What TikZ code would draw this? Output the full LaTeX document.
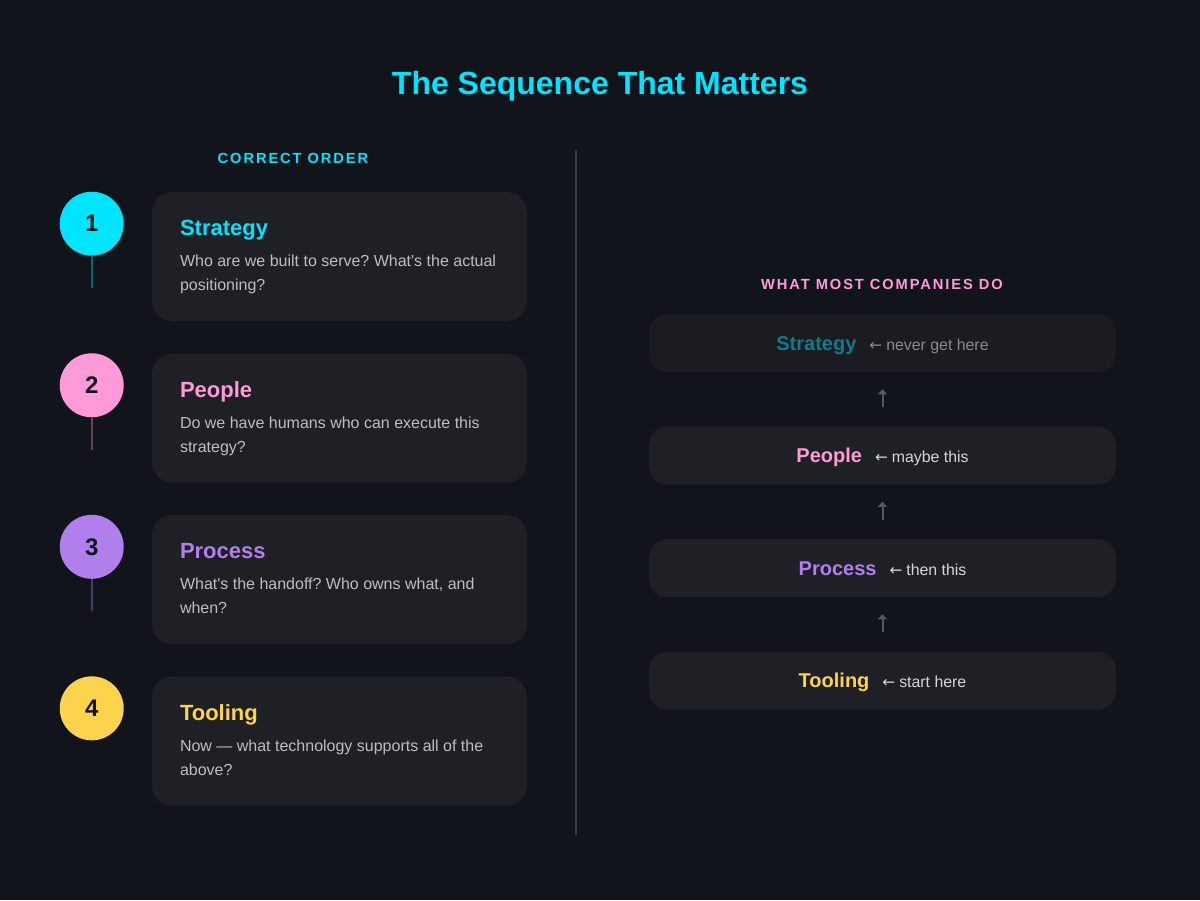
\documentclass[tikz,border=0pt]{standalone}
\usepackage{fontspec}
\setmainfont{Liberation Sans}[Ligatures=TeXOff]
\newfontfamily\capsfont[LetterSpace=13]{Liberation Sans}
\newfontfamily\arrowfont{DejaVu Sans}
\usetikzlibrary{positioning,arrows.meta,calc}
\definecolor{bgdark}{HTML}{11141B}
\definecolor{cardfill}{HTML}{1F2026}
\definecolor{dimfill}{HTML}{1B1C22}
\definecolor{accentcyan}{HTML}{00E5FF}
\definecolor{accentpink}{HTML}{FF9AD8}
\definecolor{accentpurple}{HTML}{B17FEC}
\definecolor{accentyellow}{HTML}{FCD34D}
\definecolor{desctext}{HTML}{BDBDC2}
\definecolor{sidetext}{HTML}{D6D6DA}
\definecolor{dimtext}{HTML}{8A8A90}
\definecolor{dimcyan}{HTML}{0E7C8C}
\definecolor{arrowgray}{HTML}{55585F}
\definecolor{rulegray}{HTML}{3A3D45}
\def\px{0.75pt}
\def\cardvgap{24pt}
\def\stepvgap{40.5pt}
\newcommand\steplabelfont{\fontsize{15pt}{18pt}\selectfont\bfseries}
\newcommand\stepnotefont{\fontsize{11.9pt}{14pt}\selectfont\mdseries}
\newcommand\leftarr{{\arrowfont\fontsize{11.5pt}{14pt}\selectfont ←}\hspace{3pt}}
\frenchspacing

\begin{document}
\begin{tikzpicture}[
            x=\px, y=-\px,
            card/.style={%
                rectangle, rounded corners=15pt, fill=cardfill,%
                minimum width=281.25pt, minimum height=96.75pt, inner sep=0%
            },
            numdot/.style={%
                circle, minimum size=48pt, inner sep=0, text=bgdark,%
                font=\fontsize{18pt}{20pt}\selectfont\bfseries%
            },
            cardtitle/.style={%
                anchor=base west, inner sep=0,%
                font=\fontsize{16.5pt}{18pt}\selectfont\bfseries%
            },
            carddesc/.style={%
                anchor=north west, inner sep=0, align=left, text=desctext,%
                font=\fontsize{12pt}{18pt}\selectfont%
            },
            stepbox/.style={%
                rectangle, rounded corners=13.5pt, fill=cardfill,%
                minimum width=350.25pt, minimum height=43.5pt, inner sep=0,%
                text height=12.5pt, text depth=2pt%
            },
            header/.style={%
                anchor=base, inner sep=0,%
                font=\fontsize{11pt}{12pt}\capsfont\bfseries%
            },
            stem/.style={line width=1.5pt},
            uparrow/.style={%
                arrowgray, line width=1.5pt, -{Triangle[length=3.75pt,width=6.75pt]},%
                shorten >=12.75pt, shorten <=14.25pt%
            }
        ]

        % Background
        \fill [bgdark] (0,0) rectangle (1200,900);
        \useasboundingbox (0,0) rectangle (1200,900);

        % Define nodes
        \node (title) [anchor=base, inner sep=0, text=accentcyan,
            font=\fontsize{24pt}{28pt}\selectfont\bfseries] at (600,94.5) {%
            The Sequence That Matters
        };
        \node (head_left) [header, text=accentcyan] at (293,163) {CORRECT ORDER};
        \node (head_right) [header, text=accentpink] at (882,289) {WHAT MOST COMPANIES DO};

        % left column
        \node (card_1) [card] at (339.5,256.5) {};
        \node (card_2) [card, below=\cardvgap of card_1] {};
        \node (card_3) [card, below=\cardvgap of card_2] {};
        \node (card_4) [card, below=\cardvgap of card_3] {};

        \node (num_1) [numdot, fill=accentcyan] at ($(card_1.north west)+(-60,32)$) {1};
        \node (num_2) [numdot, fill=accentpink] at ($(card_2.north west)+(-60,32)$) {2};
        \node (num_3) [numdot, fill=accentpurple] at ($(card_3.north west)+(-60,32)$) {3};
        \node (num_4) [numdot, fill=accentyellow] at ($(card_4.north west)+(-60,32)$) {4};

        \node (title_1) [cardtitle, text=accentcyan] at ($(card_1.north west)+(28,44)$) {Strategy};
        \node (desc_1) [carddesc] at ($(card_1.north west)+(28,63)$) {%
            Who are we built to serve? What's the actual\\positioning?
        };
        \node (title_2) [cardtitle, text=accentpink] at ($(card_2.north west)+(28,44)$) {People};
        \node (desc_2) [carddesc] at ($(card_2.north west)+(28,63)$) {%
            Do we have humans who can execute this\\strategy?
        };
        \node (title_3) [cardtitle, text=accentpurple] at ($(card_3.north west)+(28,44)$) {Process};
        \node (desc_3) [carddesc] at ($(card_3.north west)+(28,63)$) {%
            What's the handoff? Who owns what, and\\when?
        };
        \node (title_4) [cardtitle, text=accentyellow] at ($(card_4.north west)+(28,44)$) {Tooling};
        \node (desc_4) [carddesc] at ($(card_4.north west)+(28,63)$) {%
            Now — what technology supports all of the\\above?
        };

        % right column
        \node (step_1) [stepbox, fill=dimfill] at (882.5,343) {%
            {\steplabelfont\color{dimcyan}Strategy}\hspace{9.75pt}%
            {\stepnotefont\color{dimtext}\leftarr never get here}%
        };
        \node (step_2) [stepbox, below=\stepvgap of step_1] {%
            {\steplabelfont\color{accentpink}People}\hspace{9.75pt}%
            {\stepnotefont\color{sidetext}\leftarr maybe this}%
        };
        \node (step_3) [stepbox, below=\stepvgap of step_2] {%
            {\steplabelfont\color{accentpurple}Process}\hspace{9.75pt}%
            {\stepnotefont\color{sidetext}\leftarr then this}%
        };
        \node (step_4) [stepbox, below=\stepvgap of step_3] {%
            {\steplabelfont\color{accentyellow}Tooling}\hspace{9.75pt}%
            {\stepnotefont\color{sidetext}\leftarr start here}%
        };

        % divider
        \draw [rulegray, line width=1.5pt] (576,150) -- (576,835);

        % stems under the numbers
        \coordinate (stem_end_1) at ($(num_1.south)+(0,32)$);
        \coordinate (stem_end_2) at ($(num_2.south)+(0,32)$);
        \coordinate (stem_end_3) at ($(num_3.south)+(0,32)$);
        \draw [stem, accentcyan!38!bgdark] (num_1.south) -- (stem_end_1);
        \draw [stem, accentpink!35!bgdark] (num_2.south) -- (stem_end_2);
        \draw [stem, accentpurple!35!bgdark] (num_3.south) -- (stem_end_3);

        \draw [uparrow] (step_2) -- (step_1);
        \draw [uparrow] (step_3) -- (step_2);
        \draw [uparrow] (step_4) -- (step_3);

        \end{tikzpicture}
\end{document}
